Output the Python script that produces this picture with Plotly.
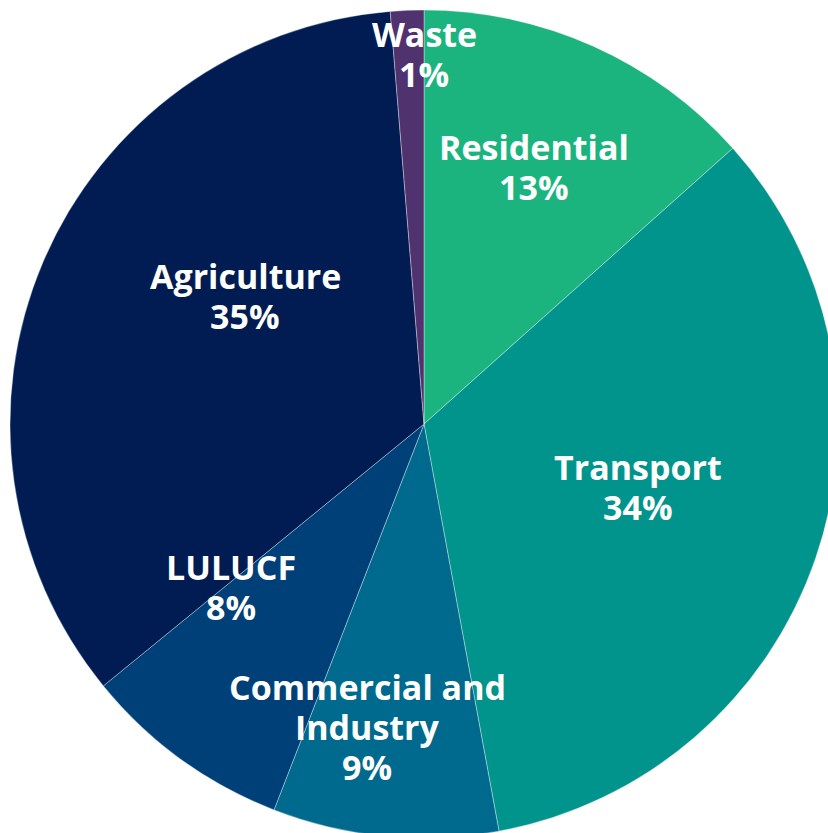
import plotly.graph_objects as go

# share of emissions by sector (clockwise from 12 o'clock)
SECTORS = ["Residential", "Transport", "Commercial and Industry", "LULUCF", "Agriculture", "Waste"]
SHARES = [13.4, 33.7, 8.8, 8.2, 34.6, 1.3]
COLORS = ["#1BB47F", "#00948C", "#006A8E", "#004078", "#001C52", "#50326E"]

# how each label is broken into lines, and where its block sits (px from top-left of the pie box)
LABEL_LINES = [["Residential"], ["Transport"], ["Commercial and", "Industry"],
               ["LULUCF"], ["Agriculture"], ["Waste"]]
LABEL_POS = [(524, 137), (628, 457), (357, 677), (221, 557), (235, 266), (414, 24)]

FONT = "'Open Sans', 'Noto Sans', sans-serif"
BOX = 828          # pie drawing box (px)
LINE_H = 40        # label line spacing (px)

fig = go.Figure(go.Pie(
    labels=SECTORS, values=SHARES, sort=False, direction="clockwise", rotation=0,
    marker=dict(colors=COLORS, line=dict(color="rgba(255,255,255,0.6)", width=0.6)),
    textinfo="none", showlegend=False, hoverinfo="label+percent",
))

total = sum(SHARES)
for lines, share, (px, py) in zip(LABEL_LINES, SHARES, LABEL_POS):
    for i, t in enumerate(lines + [f"{share / total:.0%}"]):
        fig.add_annotation(
            x=px / BOX, y=1 - (py + i * LINE_H) / BOX, xref="paper", yref="paper",
            text=f"<b>{t}</b>", showarrow=False, xanchor="center", yanchor="middle",
            font=dict(family=FONT, size=34, color="white"),
        )

fig.update_layout(
    width=848, height=848, margin=dict(l=10, r=10, t=10, b=10),
    paper_bgcolor="white", plot_bgcolor="white",
)
fig.write_html("out.html", config=dict(displayModeBar=False),
               post_script="document.body.style.margin='0';document.body.style.overflow='hidden';")
